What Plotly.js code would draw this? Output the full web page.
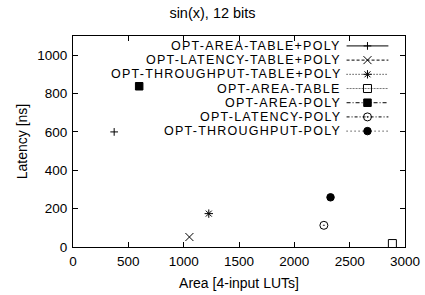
<!DOCTYPE html>
<html>
<head>
<meta charset="utf-8">
<script src="https://cdn.plot.ly/plotly-3.0.1.min.js"></script>
<style>html,body{margin:0;padding:0;background:#fff;}#chart{width:425px;height:295px;}</style>
</head>
<body>
<div id="chart"></div>
<script>
// Series names (legend order)
const seriesNames = [
  "OPT-AREA-TABLE+POLY",
  "OPT-LATENCY-TABLE+POLY",
  "OPT-THROUGHPUT-TABLE+POLY",
  "OPT-AREA-TABLE",
  "OPT-AREA-POLY",
  "OPT-LATENCY-POLY",
  "OPT-THROUGHPUT-POLY"
];
// Area [4-input LUTs]
const areaValues = [372, 1052, 1227, 2886, 598, 2267, 2327];
// Latency [ns]
const latencyValues = [600, 52, 174, 18, 838, 113, 259];

const xTickVals = [0, 500, 1000, 1500, 2000, 2500, 3000];
const yTickVals = [0, 200, 400, 600, 800, 1000];

// styles
const symbols = ["cross-thin-open", "x-thin-open", "asterisk-open", "square-open", "square", "circle-open-dot", "circle"];
const sizes = [5.5, 8, 7, 8, 7.5, 8, 7.5];
const dashes = ["solid", "3px,2px", "1px,2px", "2px,1px", "4px,2px,1px,2px", "3px,2px,1px,2px", "1px,3px"];
const lineColors = ["#000", "#000", "#000", "#777", "#000", "#000", "#000"];

const FONT = "Liberation Sans, Arial, Helvetica, sans-serif";

const traces = [];
seriesNames.forEach((name, i) => {
  traces.push({
    type: "scatter", mode: "markers", name: name,
    x: [areaValues[i]], y: [latencyValues[i]],
    marker: {symbol: symbols[i], size: sizes[i], color: "#000", line: {color: "#000", width: 1}},
    showlegend: false, hoverinfo: "skip"
  });
});

// custom gnuplot-style key (text right, sample to the right)
const keyX0 = 0.824, keyX1 = 0.950, keyXm = 0.887, keyTextX = 0.809;
const keyTop = 0.953, keyStep = 0.0673;
const annotations = [];
seriesNames.forEach((name, i) => {
  const ry = keyTop - i * keyStep;
  traces.push({
    type: "scatter", mode: "lines", xaxis: "x2", yaxis: "y2",
    x: [keyX0, keyX1], y: [ry, ry],
    line: {color: lineColors[i], width: 1, dash: dashes[i]},
    showlegend: false, hoverinfo: "skip"
  });
  traces.push({
    type: "scatter", mode: "markers", xaxis: "x2", yaxis: "y2",
    x: [keyXm], y: [ry],
    marker: {symbol: symbols[i], size: sizes[i], color: "#000", line: {color: "#000", width: 1}},
    showlegend: false, hoverinfo: "skip"
  });
  annotations.push({
    xref: "paper", yref: "paper", x: keyTextX, y: ry,
    xanchor: "right", yanchor: "middle", showarrow: false, borderpad: 0,
    text: `<span style="letter-spacing:1.25px">${name}</span>`,
    font: {family: FONT, size: 12.5, color: "#000"}
  });
});

const axisCommon = {
  showline: true, linecolor: "#000", linewidth: 1, mirror: "ticks",
  ticks: "inside", ticklen: 5, tickwidth: 1, tickcolor: "#000",
  showgrid: false, zeroline: false,
  tickfont: {family: FONT, size: 13.5, color: "#000"}
};

const layout = {
  width: 425, height: 295,
  margin: {l: 73, r: 20, t: 36, b: 48},
  paper_bgcolor: "#fff", plot_bgcolor: "#fff",
  showlegend: false,
  title: {text: "sin(x), 12 bits", font: {family: FONT, size: 14.5, color: "#000"},
          x: 0.5, xanchor: "center", y: 0.955, yanchor: "middle"},
  xaxis: Object.assign({}, axisCommon, {
    range: [0, 3000], tickvals: xTickVals, ticktext: xTickVals.map(String),
    ticklabelstandoff: 2,
    title: {text: "Area [4-input LUTs]", font: {family: FONT, size: 14, color: "#000"}, standoff: 9}
  }),
  yaxis: Object.assign({}, axisCommon, {
    range: [0, 1100], tickvals: yTickVals, ticktext: yTickVals.map(String),
    ticklabelstandoff: 2,
    title: {text: "Latency [ns]", font: {family: FONT, size: 14, color: "#000"}, standoff: 6}
  }),
  xaxis2: {overlaying: "x", range: [0, 1], visible: false, fixedrange: true},
  yaxis2: {overlaying: "y", range: [0, 1], visible: false, fixedrange: true},
  annotations: annotations
};

Plotly.newPlot("chart", traces, layout, {staticPlot: true, displayModeBar: false});
</script>
</body>
</html>
